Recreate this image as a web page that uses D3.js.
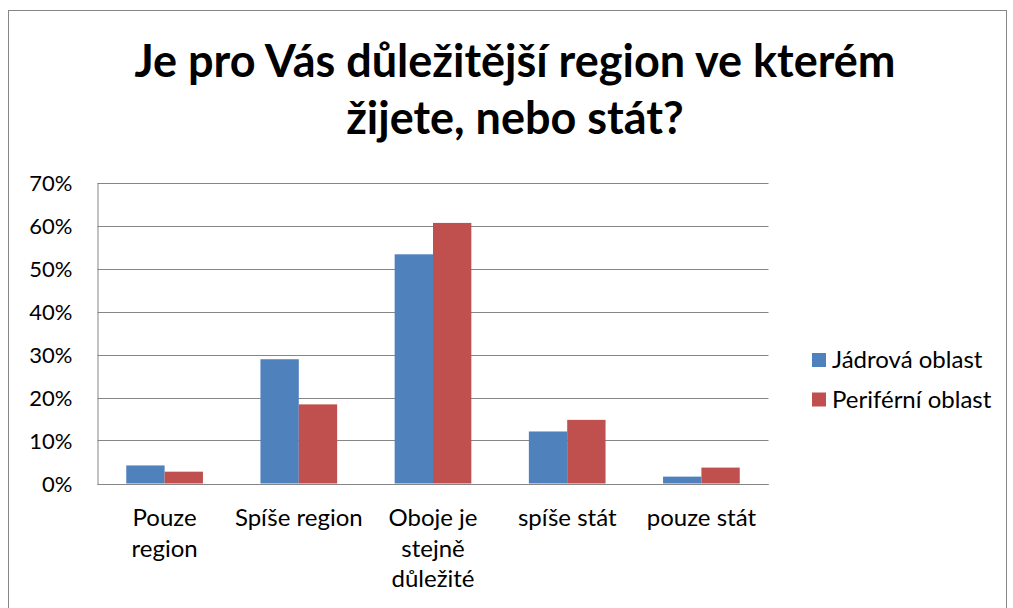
<!DOCTYPE html>
<html lang="cs">
<head>
<meta charset="UTF-8">
<style>
    body { margin: 0; background: #fff; }
    text { font-family: Lato, "Open Sans", sans-serif; fill: #000; }
    .grid line { stroke: #868686; stroke-width: 1px; }
    .axis path, .axis line { stroke: #868686; }
</style>
<title>Je pro Vás důležitější region</title>
</head>
<body>
<div id="chart"></div>
<script src="https://cdn.jsdelivr.net/npm/d3@7/dist/d3.min.js"></script>
<script>
    var width = 1013, height = 608;

    // data
    var categories = ["Pouze region", "Spíše region", "Oboje je stejně důležité", "spíše stát", "pouze stát"];
    var catLines = [["Pouze", "region"], ["Spíše region"], ["Oboje je", "stejně", "důležité"], ["spíše stát"], ["pouze stát"]];
    var seriesNames = ["Jádrová oblast", "Periférní oblast"];
    var jadrova = [0.042, 0.289, 0.533, 0.121, 0.016];
    var periferni = [0.0275, 0.184, 0.606, 0.148, 0.037];
    var yTicks = [0, 0.1, 0.2, 0.3, 0.4, 0.5, 0.6, 0.7];
    var titleLines = ["Je pro Vás důležitější region ve kterém", "žijete, nebo stát?"];
    var colors = ["#4F81BD", "#C0504D"];

    var plot = {left: 97.5, right: 768.5, top: 182.5, bottom: 483.5};

    var svg = d3.select("#chart").append("svg")
        .attr("width", width)
        .attr("height", height);

    // chart border
    svg.append("rect")
        .attr("x", 8.5).attr("y", 10.5)
        .attr("width", 998).attr("height", 640)
        .attr("fill", "none")
        .attr("stroke", "#868686");

    // title
    svg.append("g").selectAll("text")
        .data(titleLines)
        .enter().append("text")
        .attr("x", 515)
        .attr("y", function(d, i) { return 77 + i * 57; })
        .attr("text-anchor", "middle")
        .style("font-weight", "bold")
        .style("font-size", "45px")
        .text(function(d) { return d; });

    var x = d3.scaleBand().domain(categories).range([plot.left, plot.right]);
    var y = d3.scaleLinear().domain([0, 0.7]).range([plot.bottom, plot.top]);
    var bw = x.bandwidth(), barW = bw / 3.5;

    // gridlines
    svg.append("g").attr("class", "grid")
        .selectAll("line")
        .data(yTicks)
        .enter().append("line")
        .attr("x1", plot.left).attr("x2", plot.right)
        .attr("y1", function(d) { return Math.round(y(d)) + 0.5; })
        .attr("y2", function(d) { return Math.round(y(d)) + 0.5; });

    // y axis
    var yAxis = svg.append("g").attr("class", "axis")
        .attr("transform", "translate(" + plot.left + ",0)")
        .call(d3.axisLeft(y).tickValues(yTicks).tickFormat(d3.format(".0%")).tickSize(0).tickPadding(25));
    yAxis.select(".domain").attr("stroke", "#868686");
    yAxis.selectAll("text")
        .style("font-size", "22px")
        .attr("font-family", null)
        .attr("dy", "0.36em");

    // bars
    var series = [jadrova, periferni];
    series.forEach(function(vals, s) {
        svg.append("g").selectAll("rect")
            .data(vals)
            .enter().append("rect")
            .attr("x", function(d, i) { return x(categories[i]) + (bw - 2 * barW) / 2 + s * barW; })
            .attr("y", function(d) { return y(d); })
            .attr("width", barW)
            .attr("height", function(d) { return y(0) - y(d); })
            .attr("fill", colors[s]);
    });

    // x axis line
    svg.append("line")
        .attr("x1", plot.left).attr("x2", plot.right)
        .attr("y1", Math.round(y(0)) + 0.5).attr("y2", Math.round(y(0)) + 0.5)
        .attr("stroke", "#868686");

    // category labels
    var cat = svg.append("g").selectAll("text")
        .data(catLines)
        .enter().append("text")
        .attr("text-anchor", "middle")
        .style("font-size", "24px")
        .attr("transform", function(d, i) { return "translate(" + (x(categories[i]) + bw / 2) + ",526)"; });
    cat.selectAll("tspan")
        .data(function(d) { return d; })
        .enter().append("tspan")
        .attr("x", 0)
        .attr("y", function(d, i) { return i * 30.5; })
        .text(function(d) { return d; });

    // legend
    var leg = svg.append("g").selectAll("g")
        .data(seriesNames)
        .enter().append("g")
        .attr("transform", function(d, i) { return "translate(812," + (353 + i * 39.5) + ")"; });
    leg.append("rect")
        .attr("width", 14).attr("height", 14)
        .attr("fill", function(d, i) { return colors[i]; });
    leg.append("text")
        .attr("x", 20).attr("y", 15)
        .style("font-size", "24px")
        .text(function(d) { return d; });
</script>
</body>
</html>
